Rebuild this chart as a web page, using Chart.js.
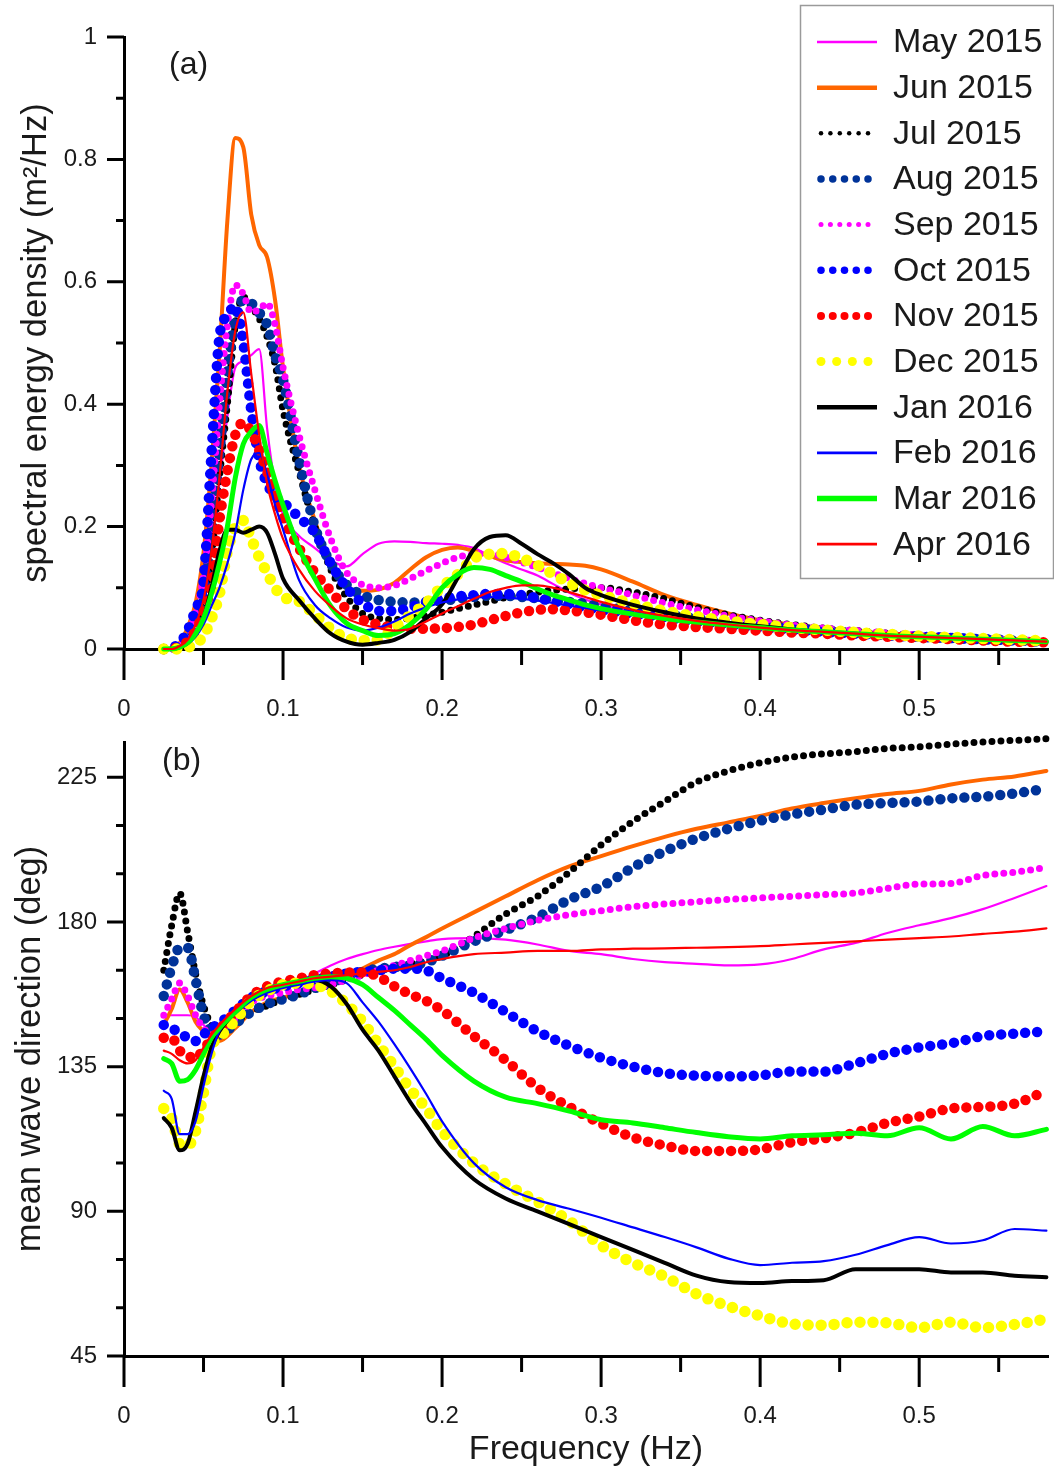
<!DOCTYPE html>
<html>
<head>
<meta charset="utf-8">
<script src="https://cdn.jsdelivr.net/npm/chart.js@4.4.0/dist/chart.umd.min.js"></script>
<style>
  html, body { margin: 0; padding: 0; background: #fff; }
  #wrap { position: relative; width: 1054px; height: 1473px; }
  canvas { position: absolute; left: 0; }
  #topChart { top: 0; }
  #bottomChart { top: 735px; }
</style>
</head>
<body>
<div id="wrap">
  <canvas id="topChart" width="1054" height="735"></canvas>
  <canvas id="bottomChart" width="1054" height="738"></canvas>
</div>
<script>
const months = ['May 2015', 'Jun 2015', 'Jul 2015', 'Aug 2015', 'Sep 2015', 'Oct 2015',
                'Nov 2015', 'Dec 2015', 'Jan 2016', 'Feb 2016', 'Mar 2016', 'Apr 2016']

// (a) spectral energy density, m2/Hz
const freqA = [0.025, 0.03, 0.035, 0.04, 0.045, 0.05, 0.055, 0.06, 0.065, 0.07, 0.075, 0.08, 0.085, 0.09, 0.095, 0.1,
               0.11, 0.12, 0.13, 0.14, 0.15, 0.16, 0.17, 0.18, 0.19, 0.2, 0.21, 0.22, 0.23, 0.24, 0.25, 0.26, 0.27, 0.28, 0.29, 0.3,
               0.32, 0.34, 0.36, 0.38, 0.4, 0.42, 0.44, 0.46, 0.48, 0.5, 0.52, 0.54, 0.56, 0.58]
const sedMay = [0, 0, 0.005, 0.02, 0.05, 0.1, 0.18, 0.27, 0.38, 0.46, 0.47, 0.48, 0.49, 0.36, 0.27, 0.22,
                0.185, 0.165, 0.145, 0.135, 0.155, 0.172, 0.176, 0.175, 0.173, 0.172, 0.17, 0.165, 0.152, 0.14, 0.13, 0.12, 0.106, 0.092, 0.081, 0.073,
                0.062, 0.054, 0.048, 0.042, 0.037, 0.032, 0.028, 0.025, 0.022, 0.02, 0.018, 0.016, 0.014, 0.012]
const sedJun = [0, 0.002, 0.01, 0.035, 0.075, 0.157, 0.3, 0.48, 0.7, 0.835, 0.82, 0.71, 0.66, 0.64, 0.57, 0.46,
                0.3, 0.21, 0.14, 0.1, 0.095, 0.097, 0.108, 0.13, 0.15, 0.162, 0.166, 0.16, 0.152, 0.145, 0.142, 0.14, 0.139, 0.138, 0.136, 0.13,
                0.11, 0.088, 0.072, 0.058, 0.047, 0.04, 0.034, 0.029, 0.025, 0.022, 0.019, 0.017, 0.015, 0.013]
const sedJul = [0, 0, 0.004, 0.015, 0.04, 0.08, 0.15, 0.28, 0.4, 0.53, 0.575, 0.56, 0.54, 0.51, 0.465, 0.39,
                0.29, 0.2, 0.13, 0.085, 0.058, 0.05, 0.048, 0.05, 0.055, 0.06, 0.066, 0.072, 0.078, 0.084, 0.089, 0.093, 0.096, 0.098, 0.1, 0.1,
                0.093, 0.082, 0.068, 0.056, 0.047, 0.04, 0.034, 0.03, 0.026, 0.022, 0.019, 0.017, 0.015, 0.013]
const sedAug = [0, 0, 0.004, 0.015, 0.04, 0.08, 0.19, 0.32, 0.45, 0.54, 0.57, 0.565, 0.55, 0.53, 0.48, 0.44,
                0.31, 0.2, 0.14, 0.105, 0.088, 0.08, 0.077, 0.076, 0.077, 0.079, 0.082, 0.085, 0.087, 0.087, 0.085, 0.083, 0.08, 0.077, 0.074, 0.07,
                0.063, 0.056, 0.05, 0.044, 0.039, 0.034, 0.03, 0.026, 0.023, 0.02, 0.018, 0.016, 0.014, 0.012]
const sedSep = [0, 0, 0.005, 0.02, 0.06, 0.12, 0.24, 0.4, 0.53, 0.595, 0.58, 0.55, 0.555, 0.565, 0.53, 0.46,
                0.35, 0.26, 0.18, 0.125, 0.105, 0.1, 0.104, 0.115, 0.128, 0.14, 0.15, 0.155, 0.156, 0.15, 0.142, 0.133, 0.124, 0.115, 0.107, 0.1,
                0.088, 0.075, 0.064, 0.054, 0.046, 0.039, 0.034, 0.03, 0.026, 0.023, 0.02, 0.017, 0.015, 0.013]
const sedOct = [0, 0.002, 0.01, 0.03, 0.065, 0.11, 0.32, 0.51, 0.545, 0.56, 0.5, 0.39, 0.31, 0.27, 0.25, 0.24,
                0.215, 0.19, 0.14, 0.1, 0.075, 0.062, 0.062, 0.068, 0.077, 0.083, 0.086, 0.088, 0.09, 0.09, 0.088, 0.083, 0.078, 0.073, 0.068, 0.064,
                0.058, 0.052, 0.046, 0.041, 0.036, 0.032, 0.028, 0.025, 0.022, 0.02, 0.018, 0.016, 0.014, 0.012]
const sedNov = [0, 0, 0.005, 0.012, 0.03, 0.06, 0.1, 0.21, 0.29, 0.35, 0.37, 0.355, 0.325, 0.29, 0.25, 0.215,
                0.165, 0.125, 0.095, 0.065, 0.048, 0.04, 0.035, 0.033, 0.033, 0.034, 0.036, 0.04, 0.047, 0.054, 0.06, 0.064, 0.065, 0.063, 0.06, 0.056,
                0.047, 0.04, 0.036, 0.033, 0.03, 0.027, 0.025, 0.022, 0.02, 0.018, 0.016, 0.014, 0.012, 0.011]
const sedDec = [0, 0, 0, 0.003, 0.008, 0.022, 0.05, 0.09, 0.16, 0.2, 0.21, 0.18, 0.15, 0.124, 0.1, 0.085,
                0.078, 0.056, 0.033, 0.018, 0.014, 0.015, 0.035, 0.055, 0.075, 0.102, 0.122, 0.148, 0.155, 0.156, 0.148, 0.137, 0.122, 0.108, 0.096, 0.088,
                0.074, 0.062, 0.053, 0.046, 0.04, 0.035, 0.031, 0.027, 0.024, 0.021, 0.019, 0.017, 0.015, 0.013]
const sedJan = [0, 0, 0.003, 0.01, 0.025, 0.05, 0.1, 0.16, 0.195, 0.195, 0.19, 0.195, 0.2, 0.19, 0.155, 0.115,
                0.08, 0.05, 0.025, 0.012, 0.007, 0.01, 0.015, 0.028, 0.05, 0.073, 0.117, 0.163, 0.183, 0.186, 0.172, 0.155, 0.14, 0.122, 0.1, 0.088,
                0.072, 0.06, 0.05, 0.043, 0.037, 0.032, 0.028, 0.025, 0.022, 0.02, 0.018, 0.016, 0.014, 0.012]
const sedFeb = [0, 0, 0.003, 0.008, 0.02, 0.04, 0.07, 0.1, 0.14, 0.19, 0.26, 0.31, 0.32, 0.285, 0.235, 0.195,
                0.113, 0.072, 0.05, 0.035, 0.03, 0.035, 0.045, 0.058, 0.068, 0.076, 0.081, 0.084, 0.085, 0.084, 0.082, 0.079, 0.075, 0.071, 0.067, 0.063,
                0.056, 0.05, 0.044, 0.039, 0.035, 0.031, 0.028, 0.025, 0.022, 0.02, 0.018, 0.016, 0.014, 0.012]
const sedMar = [0, 0, 0.003, 0.01, 0.025, 0.05, 0.09, 0.14, 0.2, 0.28, 0.335, 0.355, 0.365, 0.32, 0.275, 0.235,
                0.165, 0.115, 0.07, 0.042, 0.03, 0.022, 0.025, 0.04, 0.065, 0.1, 0.122, 0.133, 0.13, 0.12, 0.11, 0.098, 0.088, 0.08, 0.072, 0.066,
                0.057, 0.05, 0.044, 0.039, 0.035, 0.031, 0.028, 0.025, 0.022, 0.02, 0.018, 0.016, 0.014, 0.012]
const sedApr = [0, 0, 0.005, 0.015, 0.04, 0.08, 0.16, 0.28, 0.42, 0.52, 0.55, 0.45, 0.35, 0.27, 0.22, 0.18,
                0.13, 0.095, 0.07, 0.05, 0.04, 0.034, 0.03, 0.033, 0.045, 0.058, 0.07, 0.082, 0.093, 0.1, 0.104, 0.104, 0.1, 0.093, 0.085, 0.077,
                0.064, 0.054, 0.046, 0.04, 0.035, 0.031, 0.028, 0.025, 0.022, 0.02, 0.018, 0.016, 0.014, 0.012]

// (b) mean wave direction, deg
const freqB = [0.025, 0.03, 0.035, 0.04, 0.045, 0.05, 0.055, 0.06,
               0.07, 0.08, 0.09, 0.1, 0.11, 0.12, 0.13, 0.14, 0.15, 0.16, 0.17, 0.18, 0.19, 0.2,
               0.22, 0.24, 0.26, 0.28, 0.3, 0.32, 0.34, 0.36, 0.38, 0.4, 0.42, 0.44, 0.46, 0.48, 0.5, 0.52, 0.54, 0.56, 0.58]
const dirMay = [151, 151, 151, 151, 150.5, 148, 146, 146,
                150, 155, 158, 159.5, 161.5, 164, 166.5, 168.5, 170, 171.3, 172.3, 173.2, 174, 174.7,
                175, 174.5, 173, 171, 170, 168.5, 167.5, 167, 166.5, 166.8, 168.5, 171.5, 173.5, 176.6, 179, 181.2, 184, 187.5, 191.2]
const dirJun = [148, 153, 159, 155, 149, 146, 144, 143,
                147, 152, 155, 156.5, 158, 159.5, 161.5, 163.5, 165.5, 168, 170, 172.8, 175.3, 178,
                183, 188, 193, 197.3, 200.5, 203.6, 206.5, 209, 211, 213, 215.3, 217, 218.5, 219.8, 220.8, 222.8, 224.3, 225.3, 227]
const dirJul = [165, 179, 189, 177, 164, 154, 148, 146,
                149, 152, 154, 156, 157.5, 159, 160.5, 162, 163.5, 165, 166, 167, 168, 169.5,
                175.5, 182.5, 188, 195.5, 204, 211.3, 217.5, 223.5, 227, 229.5, 231.3, 232.3, 233, 234, 234.5, 235.3, 236, 236.5, 237]
const dirAug = [157, 166, 172, 172, 162, 151, 146, 145,
                148.5, 152, 154.5, 156, 157.5, 159.5, 161, 163, 164.5, 165.5, 166, 166.5, 167.5, 169.5,
                174, 177.5, 181.5, 187, 191, 197, 202, 206, 209, 211.5, 213.5, 215, 216.5, 217, 217.5, 218.5, 219, 220, 221.5]
const dirSep = [151, 156, 161, 157, 151, 147, 145, 146,
                150, 155, 157, 158, 159, 159.5, 160.5, 162, 163.5, 165, 166.5, 168, 169.5, 171,
                175, 178, 180.5, 182.3, 183.5, 184.8, 185.6, 186.3, 187, 187.5, 188, 188.5, 189, 190.5, 191.8, 192, 194.5, 195.5, 197]
const dirOct = [148, 147, 145.5, 144, 143, 145, 147, 148.5,
                152.5, 156.5, 158.5, 160, 161, 162, 163, 164, 164.5, 165, 165.5, 165.5, 165, 162.5,
                158, 152, 146, 141.5, 137.8, 135, 133, 132.2, 132, 132.3, 133.5, 133.5, 136, 139, 141, 142.3, 144.5, 145.3, 146]
const dirNov = [144, 144, 140, 138.5, 137.5, 140.5, 143.5, 146.5,
                152, 157, 160, 161.5, 162.5, 163.5, 164, 164.3, 164.3, 163, 160, 157.5, 155.5, 152.5,
                144.5, 137, 128.5, 122.5, 117.3, 113, 110.5, 108.8, 108.8, 109.3, 111.5, 112.7, 114.5, 117.5, 119.5, 122, 122.5, 123.5, 127.5]
const dirDec = [122, 119, 111, 110.5, 115, 127, 141, 144,
                149.5, 155.5, 158.5, 160.5, 161, 160.5, 158.5, 154.5, 149, 142, 135, 128, 122, 115,
                105, 98.5, 93, 87, 79.4, 74, 69.7, 64.3, 60.5, 57.5, 55, 54.6, 55.5, 55.3, 53.8, 55.5, 53.8, 54.8, 56.5]
const dirJan = [119, 116, 109, 111, 121, 132, 141, 146,
                152, 156, 158.5, 160, 161, 162, 160, 154.5, 146.5, 140, 132, 124, 117, 110,
                100, 94, 90, 86, 82, 78, 74, 70, 68, 67.7, 68.3, 68.6, 72, 72, 72, 71, 71, 70, 69.5]
const dirFeb = [127.5, 125, 114, 114, 118, 129, 139, 146,
                151.5, 155.5, 158, 159.5, 160.5, 161.5, 162, 161, 155, 149, 142, 134.5, 126.5, 118,
                105, 97.5, 93.5, 90.8, 88, 85, 82, 78.8, 75.3, 73.3, 74, 74.5, 76.5, 79.5, 82, 80, 81, 84.5, 84]
const dirMar = [137.5, 136, 130.5, 131, 134, 139, 144, 147,
                152, 156.5, 159, 160.5, 161.5, 162.5, 163, 162.5, 160.5, 156.5, 152.5, 148, 143.5, 138.5,
                130.5, 125.5, 123.5, 121.2, 118.5, 117.5, 116, 114.5, 113.2, 112.5, 113.5, 113.8, 114.3, 113.5, 116, 112.5, 116.4, 113.5, 115.5]
const dirApr = [140, 139, 137, 136, 137, 141, 145, 148,
                153, 157, 159.5, 160.5, 161.5, 162.5, 163, 163.5, 164, 164.5, 165, 166, 167.5, 168.5,
                170, 170.5, 171, 171, 171.5, 171.7, 171.8, 172, 172.2, 172.5, 173, 173.5, 174, 174.5, 175, 175.5, 176.3, 177, 178]

const sedSeries = [sedMay, sedJun, sedJul, sedAug, sedSep, sedOct, sedNov, sedDec, sedJan, sedFeb, sedMar, sedApr]
const dirSeries = [dirMay, dirJun, dirJul, dirAug, dirSep, dirOct, dirNov, dirDec, dirJan, dirFeb, dirMar, dirApr]

const X_MAX = 0.581
const FONT = '"Liberation Sans", Arial, Helvetica, sans-serif'
const TEXT = '#1a1a1a'

// line look per month: solid width, or dot size + spacing (plot and legend)
const styles = [
    {color: '#ff00ff', width: 2.2},
    {color: '#ff6600', width: 4},
    {color: '#000000', dot: 7, gap: 9, legDot: 4.5, legN: 6},
    {color: '#003399', dot: 10.5, gap: 12, legDot: 7.5, legN: 5},
    {color: '#ff00ff', dot: 7, gap: 9, legDot: 5, legN: 6},
    {color: '#0000ff', dot: 10.5, gap: 12, legDot: 7.5, legN: 5},
    {color: '#ff0000', dot: 10.5, gap: 12, legDot: 8, legN: 5},
    {color: '#ffff00', dot: 11.5, gap: 13, legDot: 9, legN: 4},
    {color: '#000000', width: 4},
    {color: '#0000ff', width: 2.2},
    {color: '#00ff00', width: 5},
    {color: '#ff0000', width: 2.2}
]

function makeSets(freq, series) {
    return series.map((vals, i) => {
        const s = styles[i]
        const ds = {
            label: months[i],
            data: freq.map((f, k) => ({x: f, y: vals[k]})),
            borderColor: s.color,
            backgroundColor: s.color,
            pointRadius: 0,
            fill: false,
            clip: false,
            cubicInterpolationMode: 'monotone',
            borderJoinStyle: 'round',
            borderCapStyle: 'round',
            order: series.length - 1 - i
        }
        if (s.dot) {
            ds.borderWidth = s.dot
            ds.borderDash = [0, s.gap]
        } else {
            ds.borderWidth = s.width
        }
        return ds
    })
}

function xAxis(height, withTitle) {
    return {
        type: 'linear', min: 0, max: X_MAX,
        border: {color: '#000', width: 3},
        grid: {display: false, drawTicks: false},
        ticks: {
            stepSize: 0.1, includeBounds: false, padding: 46, maxRotation: 0, autoSkip: false,
            color: TEXT, font: {family: FONT, size: 24},
            callback: v => String(+v.toFixed(2))
        },
        title: {
            display: withTitle, text: 'Frequency (Hz)', color: TEXT,
            font: {family: FONT, size: 34}, padding: {top: 0, bottom: 3}
        },
        afterFit(scale) {
            scale.height = height
            scale.paddingLeft = 0
            scale.paddingRight = 0
        }
    }
}

function yAxis(min, max, step, text, titlePad) {
    return {
        type: 'linear', min, max,
        border: {color: '#000', width: 3},
        grid: {display: false, drawTicks: false},
        ticks: {
            stepSize: step, includeBounds: false, padding: 27,
            color: TEXT, font: {family: FONT, size: 24},
            callback: v => String(+v.toFixed(2))
        },
        title: {
            display: true, text, color: TEXT,
            font: {family: FONT, size: 34.5}, padding: {top: titlePad, bottom: 0}
        },
        afterFit(scale) {
            // keep the plot box where the reference has it
            scale.width = 124
            scale.paddingTop = 0
            scale.paddingBottom = 0
        }
    }
}

// major / minor tick marks on both axes
const tickMarks = {
    id: 'tickMarks',
    afterDraw(chart, args, o) {
        const {ctx, chartArea: a, scales: {x, y}} = chart
        ctx.save()
        ctx.strokeStyle = '#000'
        ctx.lineWidth = 3
        ctx.beginPath()
        for (let i = 0; i * 0.05 <= x.max + 1e-9; i++) {
            const px = x.getPixelForValue(i * 0.05)
            ctx.moveTo(px, a.bottom)
            ctx.lineTo(px, a.bottom + (i % 2 === 0 ? 31 : 16))
        }
        for (let i = 0; y.min + i * o.minor <= y.max + 1e-9; i++) {
            const py = y.getPixelForValue(y.min + i * o.minor)
            ctx.moveTo(a.left, py)
            ctx.lineTo(a.left - (i % o.every === 0 ? 17 : 8), py)
        }
        ctx.stroke()
        ctx.restore()
    }
}

const panelLabel = {
    id: 'panelLabel',
    afterDraw(chart, args, o) {
        const {ctx, chartArea: a} = chart
        ctx.save()
        ctx.fillStyle = TEXT
        ctx.font = `32px ${FONT}`
        ctx.textBaseline = 'middle'
        ctx.fillText(o.text, a.left + o.dx, a.top + o.dy)
        ctx.restore()
    }
}

const boxLegend = {
    id: 'boxLegend',
    afterDraw(chart) {
        const ctx = chart.ctx
        ctx.save()
        ctx.fillStyle = '#fff'
        ctx.fillRect(800, 5, 253, 573)
        ctx.strokeStyle = '#9a9a9a'
        ctx.lineWidth = 1.5
        ctx.strokeRect(800.5, 5.5, 253, 573)
        ctx.font = `34px ${FONT}`
        ctx.textBaseline = 'middle'
        months.forEach((m, i) => {
            const s = styles[i]
            const yy = 42 + i * 45.65
            ctx.fillStyle = s.color
            if (s.dot) {
                const step = (868 - 821) / (s.legN - 1)
                for (let k = 0; k < s.legN; k++) {
                    ctx.beginPath()
                    ctx.arc(821 + k * step, yy, s.legDot / 2, 0, Math.PI * 2)
                    ctx.fill()
                }
            } else {
                ctx.strokeStyle = s.color
                ctx.lineWidth = s.width + 0.5
                ctx.beginPath()
                ctx.moveTo(817, yy)
                ctx.lineTo(877, yy)
                ctx.stroke()
            }
            ctx.fillStyle = TEXT
            ctx.fillText(m, 893, yy + 1)
        })
        ctx.restore()
    }
}

const common = {
    responsive: false,
    animation: false,
    devicePixelRatio: 1,
    events: []
}

new Chart(document.getElementById('topChart').getContext('2d'), {
    type: 'line',
    data: {datasets: makeSets(freqA, sedSeries)},
    options: {
        ...common,
        layout: {padding: {top: 37, right: 6, left: 0, bottom: 0}},
        scales: {
            x: xAxis(86, false),
            y: yAxis(0, 1, 0.2, 'spectral energy density (m²/Hz)', 16)
        },
        plugins: {
            legend: {display: false},
            tooltip: {enabled: false},
            tickMarks: {minor: 0.1, every: 2},
            panelLabel: {text: '(a)', dx: 45, dy: 28}
        }
    },
    plugins: [tickMarks, panelLabel, boxLegend]
})

new Chart(document.getElementById('bottomChart').getContext('2d'), {
    type: 'line',
    data: {datasets: makeSets(freqB, dirSeries)},
    options: {
        ...common,
        layout: {padding: {top: 7, right: 6, left: 0, bottom: 0}},
        scales: {
            x: xAxis(117, true),
            y: yAxis(45, 236, 45, 'mean wave direction (deg)', 10)
        },
        plugins: {
            legend: {display: false},
            tooltip: {enabled: false},
            tickMarks: {minor: 15, every: 3},
            panelLabel: {text: '(b)', dx: 38, dy: 19}
        }
    },
    plugins: [tickMarks, panelLabel]
})
</script>
</body>
</html>
